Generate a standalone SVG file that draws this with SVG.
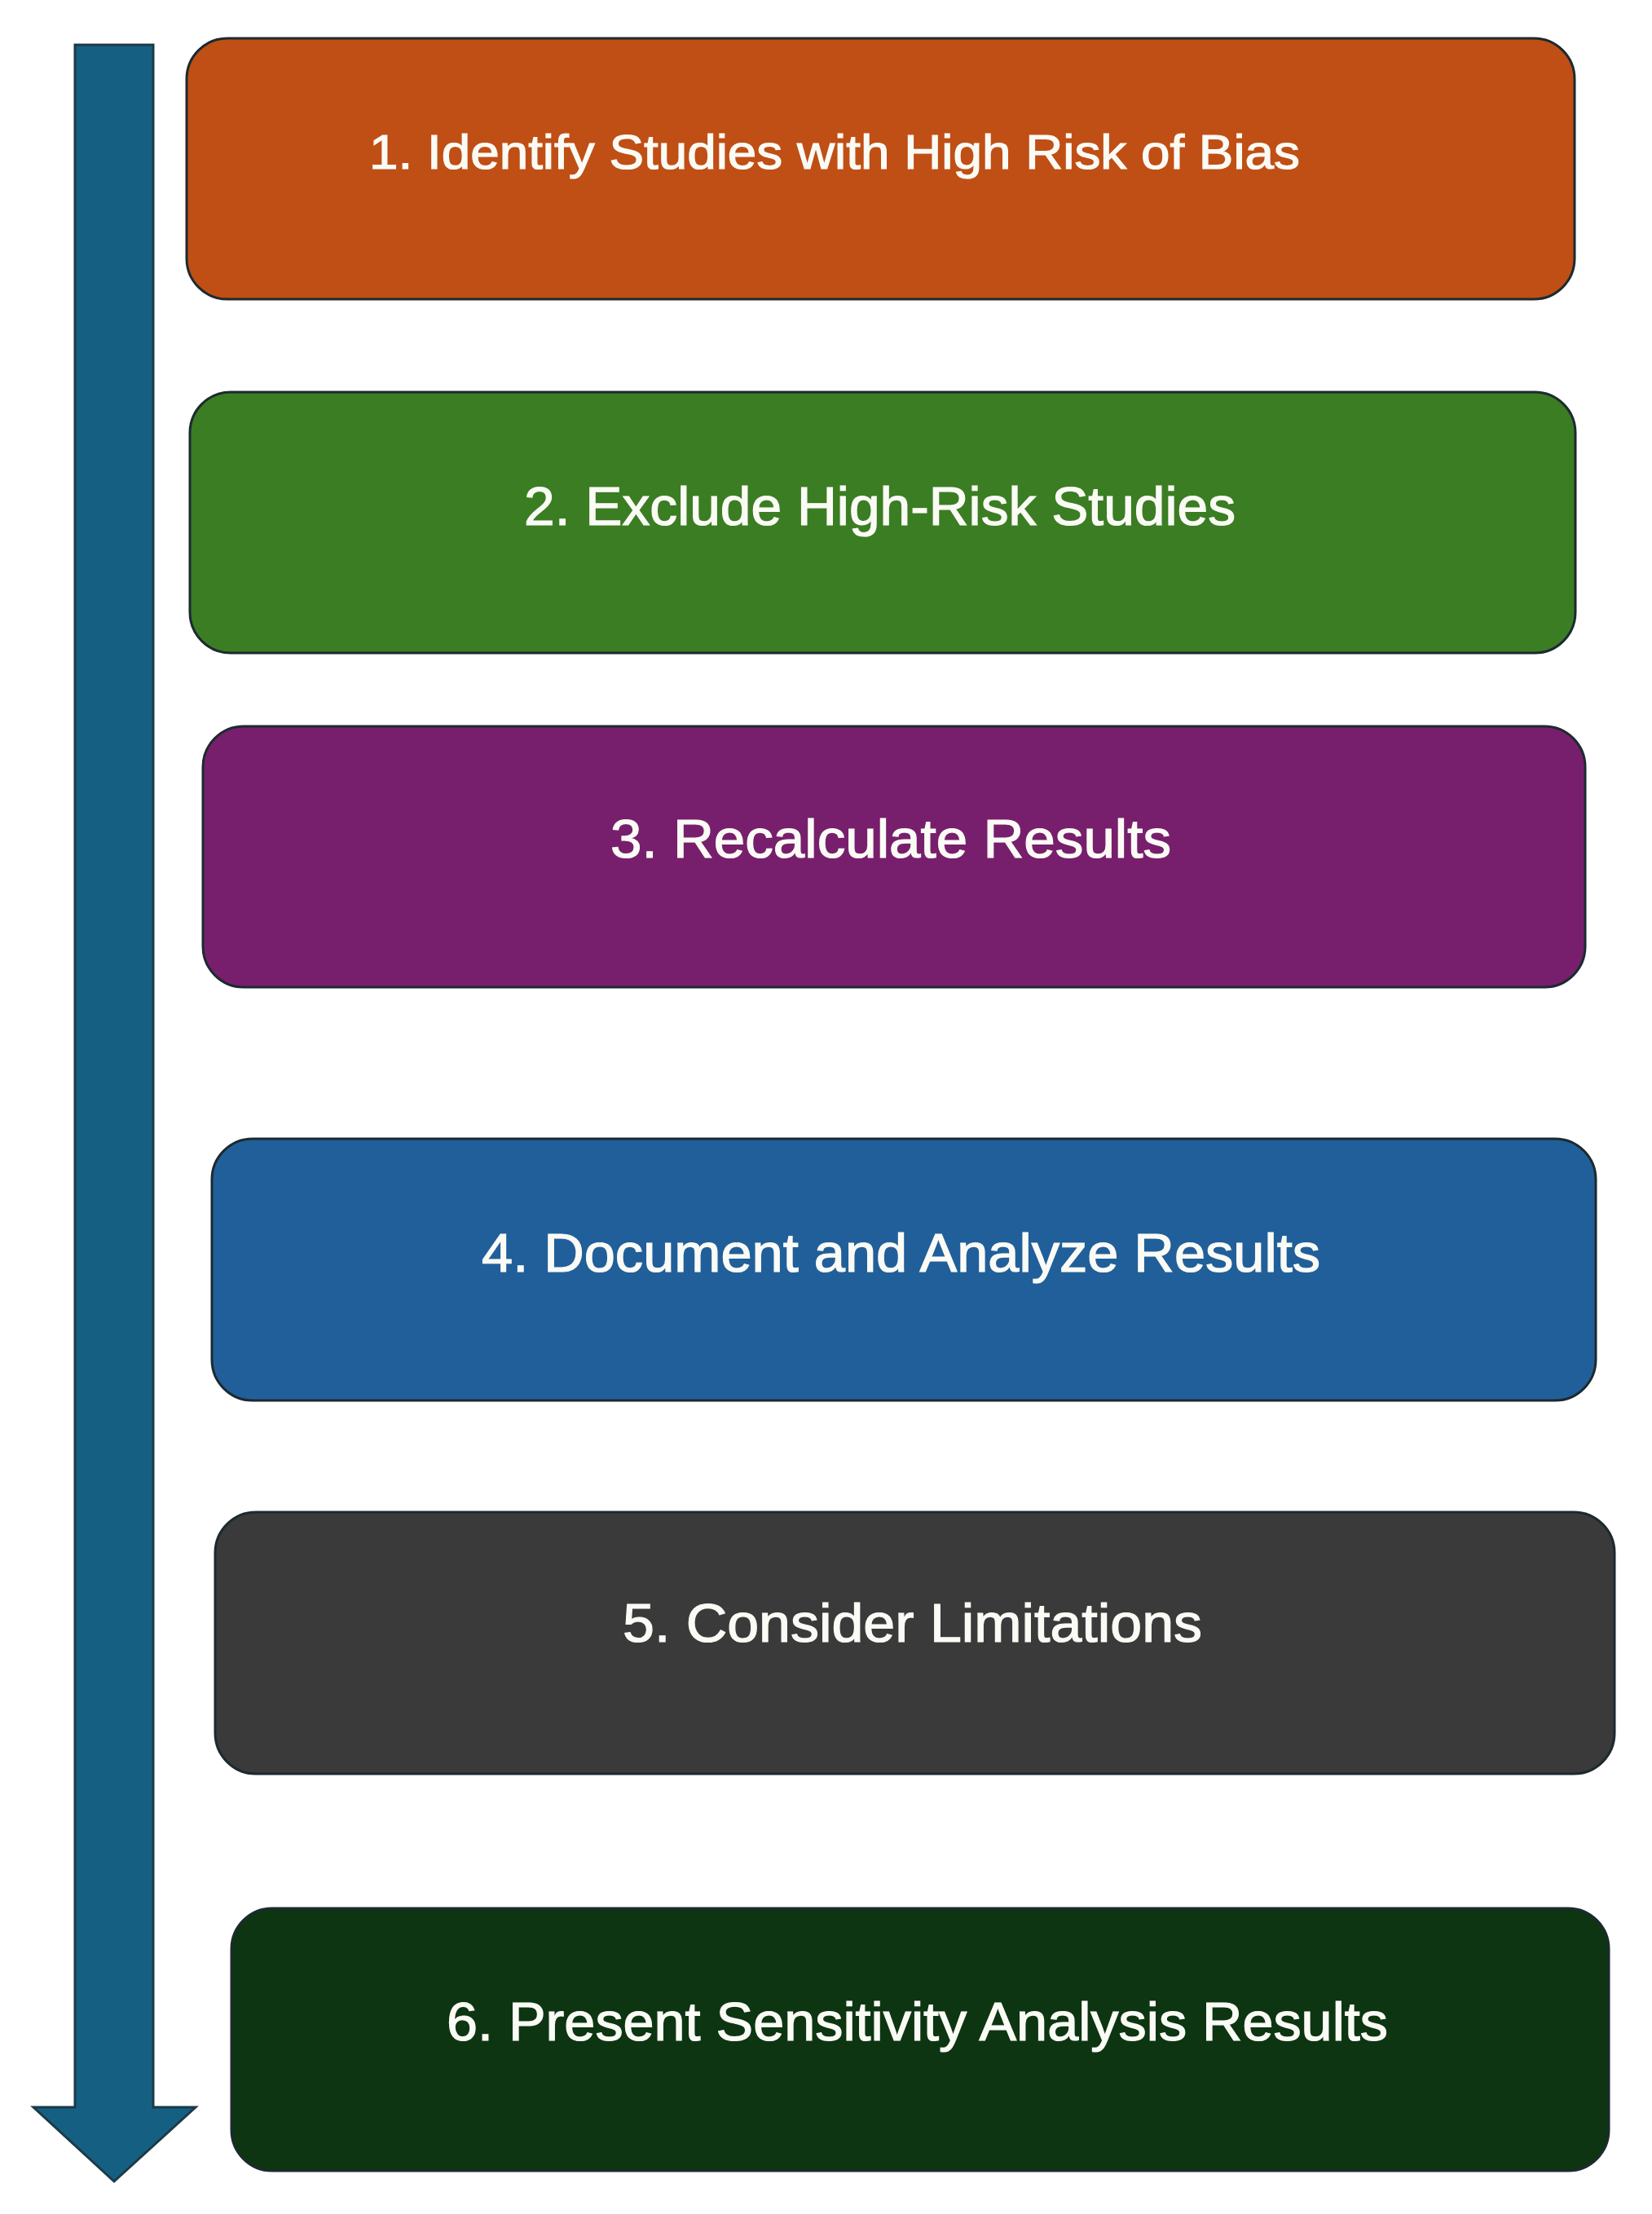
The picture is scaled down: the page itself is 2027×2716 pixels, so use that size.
<svg xmlns="http://www.w3.org/2000/svg" width="2027" height="2716" viewBox="0 0 2027 2716">
<style>
.box{stroke:#1c2a30;stroke-width:3}
.lbl{font-family:"Liberation Sans",Arial,sans-serif;fill:#fbfbf6;stroke:#fbfbf6;stroke-width:1.2;font-size:66px}
</style>
<rect x="0" y="0" width="2027" height="2716" fill="#ffffff"/>
<g id="connectors">
<path d="M92,55 L188,55 L188,2585 L240,2585 L140,2676 L41,2585 L92,2585 Z" fill="#156082" stroke="#1c3a48" stroke-width="3" stroke-linejoin="miter"/>
</g>
<g id="node1">
<rect class="box" x="229" y="47" width="1703" height="320" rx="50" fill="#C04F15"/>
<text class="lbl" x="453" y="207" style="font-size:59px" textLength="1142" lengthAdjust="spacingAndGlyphs">1. Identify Studies with High Risk of Bias</text>
</g>
<g id="node2">
<rect class="box" x="233" y="481" width="1700" height="320" rx="50" fill="#3B7D23"/>
<text class="lbl" x="643" y="644" textLength="873" lengthAdjust="spacingAndGlyphs">2. Exclude High-Risk Studies</text>
</g>
<g id="node3">
<rect class="box" x="249" y="891" width="1696" height="320" rx="50" fill="#771F6C"/>
<text class="lbl" x="749" y="1052" textLength="688" lengthAdjust="spacingAndGlyphs">3. Recalculate Results</text>
</g>
<g id="node4">
<rect class="box" x="260" y="1397" width="1698" height="321" rx="50" fill="#215F9A"/>
<text class="lbl" x="591" y="1560" textLength="1029" lengthAdjust="spacingAndGlyphs">4. Document and Analyze Results</text>
</g>
<g id="node5">
<rect class="box" x="264" y="1855" width="1717" height="321" rx="50" fill="#3A3A3A"/>
<text class="lbl" x="764" y="2014" textLength="711" lengthAdjust="spacingAndGlyphs">5. Consider Limitations</text>
</g>
<g id="node6">
<rect class="box" x="284" y="2341" width="1690" height="322" rx="50" fill="#0D3512"/>
<text class="lbl" x="548" y="2503" textLength="1155" lengthAdjust="spacingAndGlyphs">6. Present Sensitivity Analysis Results</text>
</g>
</svg>
